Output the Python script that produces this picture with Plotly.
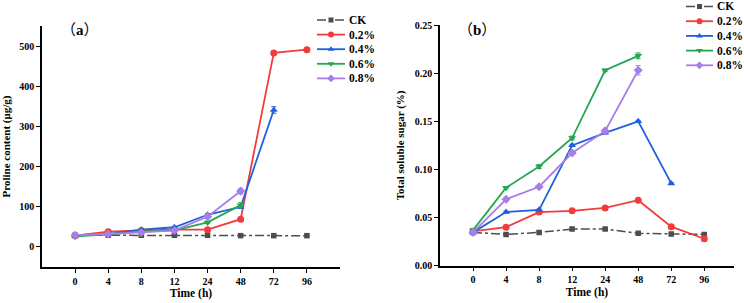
import plotly.graph_objects as go

times = ["0", "4", "8", "12", "24", "48", "72", "96"]
series_names = ["CK", "0.2%", "0.4%", "0.6%", "0.8%"]

# Panel (a): proline content (µg/g)
pro_ck = [29, 29, 29, 29, 29, 28, 28, 28]
pro_02 = [28, 38, 41, 43, 43, 69, 483, 491]
pro_04 = [28, 32, 43, 49, 80, 100, 341]
pro_06 = [26, 31, 38, 41, 61, 104]
pro_08 = [29, 32, 36, 41, 75, 139]
pro_err_ck = [1, 1, 1, 1, 1, 1, 1, 1]
pro_err_02 = [2, 2, 2, 2, 2, 3, 4, 4]
pro_err_04 = [2, 2, 2, 2, 3, 4, 8]
pro_err_06 = [1, 1, 2, 2, 3, 6]
pro_err_08 = [1, 1, 2, 2, 3, 7]

# Panel (b): total soluble sugar (%)
sug_ck = [0.0346, 0.0325, 0.0346, 0.038, 0.038, 0.0336, 0.033, 0.0325]
sug_02 = [0.0357, 0.040, 0.0557, 0.057, 0.060, 0.068, 0.0405, 0.028]
sug_04 = [0.0346, 0.0557, 0.058, 0.125, 0.138, 0.150, 0.0855]
sug_06 = [0.037, 0.081, 0.103, 0.1326, 0.203, 0.218]
sug_08 = [0.0346, 0.069, 0.082, 0.117, 0.140, 0.203]
sug_err_ck = [0.001] * 8
sug_err_02 = [0.001] * 8
sug_err_04 = [0.001] * 7
sug_err_06 = [0.001, 0.001, 0.002, 0.002, 0.001, 0.003]
sug_err_08 = [0.001, 0.001, 0.001, 0.001, 0.002, 0.005]

colors = ["#4d4d4d", "#f23b3b", "#1f5fe0", "#25a650", "#a67ee8"]
symbols = ["square", "circle", "triangle-up", "triangle-down", "diamond"]
dashes = ["dashdot", "solid", "solid", "solid", "solid"]

FONT = "Liberation Serif"
W, H = 744, 303

fig = go.Figure()

panels = [
    ([pro_ck, pro_02, pro_04, pro_06, pro_08],
     [pro_err_ck, pro_err_02, pro_err_04, pro_err_06, pro_err_08], "x", "y"),
    ([sug_ck, sug_02, sug_04, sug_06, sug_08],
     [sug_err_ck, sug_err_02, sug_err_04, sug_err_06, sug_err_08], "x2", "y2"),
]

for vals_list, errs_list, xa, ya in panels:
    for i, (vals, errs) in enumerate(zip(vals_list, errs_list)):
        fig.add_trace(go.Scatter(
            x=times[:len(vals)], y=vals, name=series_names[i],
            xaxis=xa, yaxis=ya, showlegend=False,
            mode="lines+markers",
            line=dict(color=colors[i], width=1.8 if i else 1.5, dash=dashes[i]),
            marker=dict(symbol=symbols[i], size=7 if i else 5.5, color=colors[i]),
            error_y=dict(type="data", array=errs, visible=True, color=colors[i],
                         thickness=1, width=2.5),
        ))

# Manual legends (layout positions in pixels on a hidden overlay axis)
legend_boxes = [
    dict(x0=317, x1=345, tx=347, y0=20, dy=14.6),
    dict(x0=686, x1=713, tx=715, y0=6.5, dy=14.7),
]
annotations = []
for lb in legend_boxes:
    for i, name in enumerate(series_names):
        yy = lb["y0"] + i * lb["dy"]
        fig.add_trace(go.Scatter(
            x=[lb["x0"], lb["x1"]], y=[yy, yy], xaxis="x3", yaxis="y3",
            mode="lines", showlegend=False, hoverinfo="skip",
            line=dict(color=colors[i], width=1.8 if i else 1.5, dash=dashes[i]),
        ))
        fig.add_trace(go.Scatter(
            x=[(lb["x0"] + lb["x1"]) / 2], y=[yy], xaxis="x3", yaxis="y3",
            mode="markers", showlegend=False, hoverinfo="skip",
            marker=dict(symbol=symbols[i], size=6 if i else 5, color=colors[i]),
        ))
        annotations.append(dict(
            text=name, x=lb["tx"] / W, y=1 - yy / H, xref="paper", yref="paper",
            xanchor="left", yanchor="middle", showarrow=False,
            font=dict(family=FONT, size=11.5, color="black", weight="bold"),
        ))

for label, cx in [("a", 80), ("b", 477)]:
    annotations.append(dict(
        text=("<span style='font-family:Noto Sans CJK SC;font-weight:normal'>（</span>"
              + label +
              "<span style='font-family:Noto Sans CJK SC;font-weight:normal'>）</span>"),
        x=cx / W, y=1 - 28 / H, xref="paper", yref="paper", showarrow=False,
        xanchor="center", yanchor="middle",
        font=dict(family=FONT, size=15, color="black", weight="bold"),
    ))

axis_common = dict(
    type="category", categoryorder="array", categoryarray=times,
    showline=True, linecolor="black", linewidth=1.5, ticks="outside",
    ticklen=4, tickwidth=1.2, tickcolor="black", showgrid=False, zeroline=False,
    automargin=False,
    tickfont=dict(family=FONT, size=10, color="black", weight="bold"),
    title=dict(text="Time (h)", font=dict(family=FONT, size=11.5, color="black", weight="bold"), standoff=3),
    range=[-1, 8],
)
yaxis_common = dict(
    showline=True, linecolor="black", linewidth=1.5, ticks="outside",
    ticklen=4, tickwidth=1.2, tickcolor="black", showgrid=False, zeroline=False,
    automargin=False,
    tickfont=dict(family=FONT, size=10, color="black", weight="bold"),
)

fig.update_layout(
    width=W, height=H,
    margin=dict(l=0, r=0, t=0, b=0, pad=0),
    paper_bgcolor="white", plot_bgcolor="rgba(0,0,0,0)",
    font=dict(family=FONT, color="black"),
    showlegend=False,
    xaxis=dict(axis_common, domain=[42 / W, 340 / W], anchor="y"),
    xaxis2=dict(axis_common, domain=[440 / W, 734 / W], anchor="y2", range=[-1, 7.9]),
    yaxis=dict(yaxis_common, domain=[36 / H, 277 / H], anchor="x",
               range=[-50, 550], tickvals=[0, 100, 200, 300, 400, 500],
               title=dict(text="Proline content (μg/g)", standoff=8,
                          font=dict(family=FONT, size=11, color="black", weight="bold"))),
    yaxis2=dict(yaxis_common, domain=[37.3 / H, 278 / H], anchor="x2",
                range=[0, 0.25], tickvals=[0, 0.05, 0.10, 0.15, 0.20, 0.25], tickformat=".2f",
                title=dict(text="Total soluble sugar (%)", standoff=8,
                           font=dict(family=FONT, size=11, color="black", weight="bold"))),
    xaxis3=dict(domain=[0, 1], range=[0, W], visible=False, fixedrange=True, anchor="y3",
                automargin=False),
    yaxis3=dict(domain=[0, 1], range=[H, 0], visible=False, fixedrange=True, anchor="x3",
                automargin=False),
    annotations=annotations,
)

fig.write_html("out.html", config={"displayModeBar": False},
               post_script="document.body.style.margin='0px';")
